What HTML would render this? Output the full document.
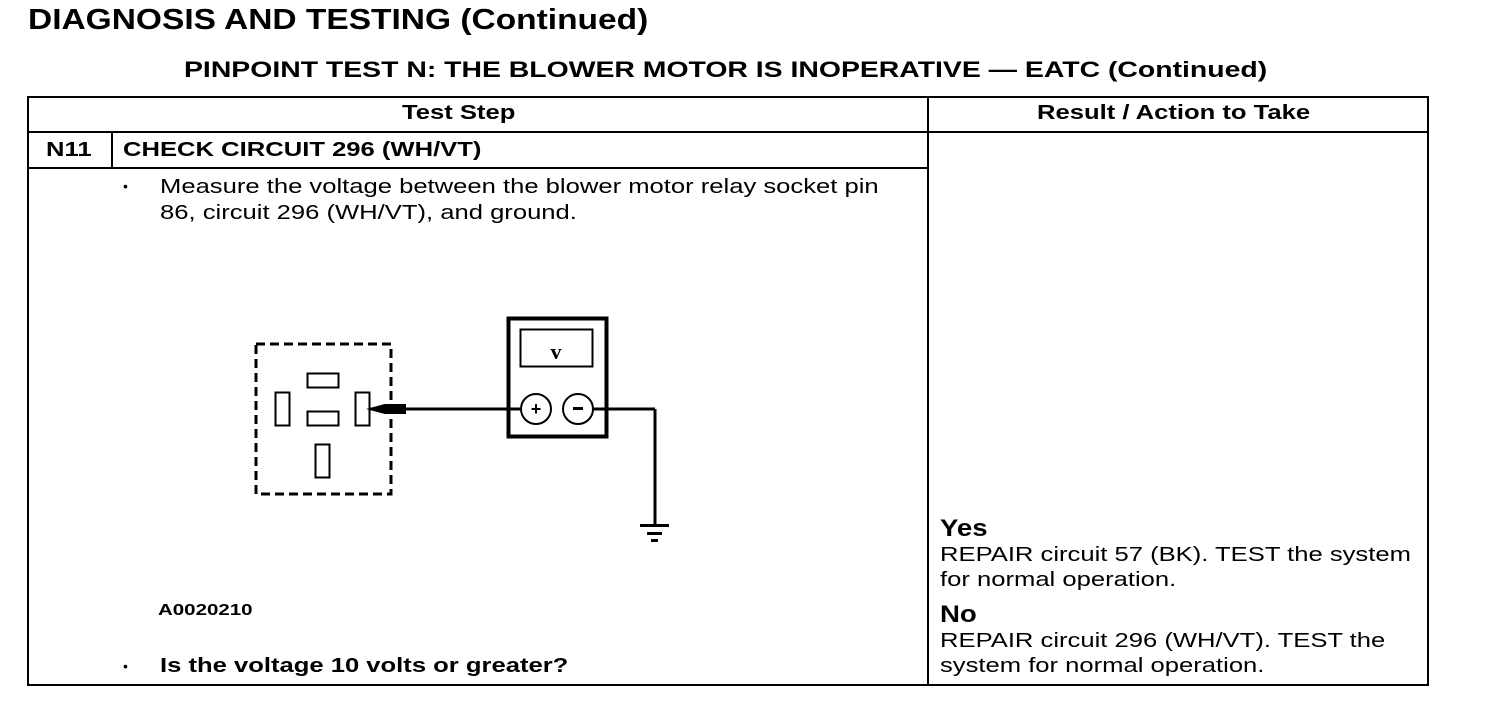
<!DOCTYPE html>
<html><head><style>
body{margin:0;width:1504px;height:702px;background:#fff;position:relative;font-family:"Liberation Sans",Arial,sans-serif;color:#000;overflow:hidden}
.a{position:absolute;white-space:nowrap;transform:scaleX(1.28);transform-origin:0 0}
.b{font-weight:bold}
.l{position:absolute;background:#000}
.d{position:absolute;font-size:14px}
</style></head><body>
<div class="a b" style="left:28px;top:4px;font-size:29px;transform:scaleX(1.155)">DIAGNOSIS AND TESTING (Continued)</div>
<div class="a b" style="left:184px;top:57px;font-size:22px;transform:scaleX(1.29)">PINPOINT TEST N: THE BLOWER MOTOR IS INOPERATIVE — EATC (Continued)</div>
<div class="l" style="left:27px;top:96px;width:1402px;height:2px"></div>
<div class="l" style="left:27px;top:684px;width:1402px;height:2px"></div>
<div class="l" style="left:27px;top:96px;width:2px;height:590px"></div>
<div class="l" style="left:1427px;top:96px;width:2px;height:590px"></div>
<div class="l" style="left:927px;top:96px;width:2px;height:590px"></div>
<div class="l" style="left:27px;top:131px;width:1402px;height:2px"></div>
<div class="l" style="left:27px;top:167px;width:902px;height:2px"></div>
<div class="l" style="left:111px;top:131px;width:2px;height:37px"></div>
<div class="a b" style="left:402px;top:102px;font-size:20px">Test Step</div>
<div class="a b" style="left:1037px;top:102px;font-size:20px">Result / Action to Take</div>
<div class="a b" style="left:46px;top:139px;font-size:20px">N11</div>
<div class="a b" style="left:123px;top:139px;font-size:20px">CHECK CIRCUIT 296 (WH/VT)</div>
<div class="d" style="left:123px;top:178px">•</div>
<div class="a" style="left:160px;top:174px;font-size:20px;line-height:26px">Measure the voltage between the blower motor relay socket pin<br>86, circuit 296 (WH/VT), and ground.</div>
<div class="a b" style="left:158px;top:602px;font-size:16px">A0020210</div>
<div class="d" style="left:123px;top:658px">•</div>
<div class="a b" style="left:160px;top:655px;font-size:20px">Is the voltage 10 volts or greater?</div>
<div class="a b" style="left:940px;top:515px;font-size:24px;transform:scaleX(1.15)">Yes</div>
<div class="a" style="left:940px;top:543px;font-size:20px;line-height:25px">REPAIR circuit 57 (BK). TEST the system<br>for normal operation.</div>
<div class="a b" style="left:940px;top:601px;font-size:24px;transform:scaleX(1.15)">No</div>
<div class="a" style="left:940px;top:629px;font-size:20px;line-height:25px">REPAIR circuit 296 (WH/VT). TEST the<br>system for normal operation.</div>
<svg width="1504" height="702" style="position:absolute;left:0;top:0">
<g fill="none" stroke="#000">
<rect x="256" y="344" width="135" height="150" stroke-width="3" stroke-dasharray="9,5"/>
<rect x="307.5" y="373.5" width="31" height="14" stroke-width="2"/>
<rect x="275.5" y="392.5" width="14" height="33" stroke-width="2"/>
<rect x="307.5" y="411.5" width="31" height="14" stroke-width="2"/>
<rect x="355.5" y="392.5" width="14" height="33" stroke-width="2"/>
<rect x="315.5" y="444.5" width="14" height="33" stroke-width="2"/>
<line x1="370" y1="409" x2="520" y2="409" stroke-width="3"/>
<line x1="594" y1="409" x2="655" y2="409" stroke-width="3"/>
<line x1="655" y1="409" x2="655" y2="525" stroke-width="3"/>
<rect x="508.5" y="318.5" width="98" height="118" stroke-width="4"/>
<rect x="520.5" y="329.5" width="72" height="37" stroke-width="2"/>
<circle cx="536" cy="409" r="15" stroke-width="2" fill="#fff"/>
<circle cx="578" cy="409" r="15" stroke-width="2" fill="#fff"/>
</g>
<polygon points="366,409 385,404 406,404 406,414 385,414" fill="#000"/>
<rect x="640" y="524" width="29" height="3" fill="#000"/>
<rect x="647" y="532" width="15" height="3" fill="#000"/>
<rect x="651" y="539" width="7" height="3" fill="#000"/>
<text x="556" y="359" font-size="22" font-weight="bold" text-anchor="middle" font-family="Liberation Serif">v</text>
<text x="536" y="415" font-size="18" font-weight="bold" text-anchor="middle">+</text>
<rect x="573" y="407" width="10" height="3" fill="#000"/>
</svg>
</body></html>
